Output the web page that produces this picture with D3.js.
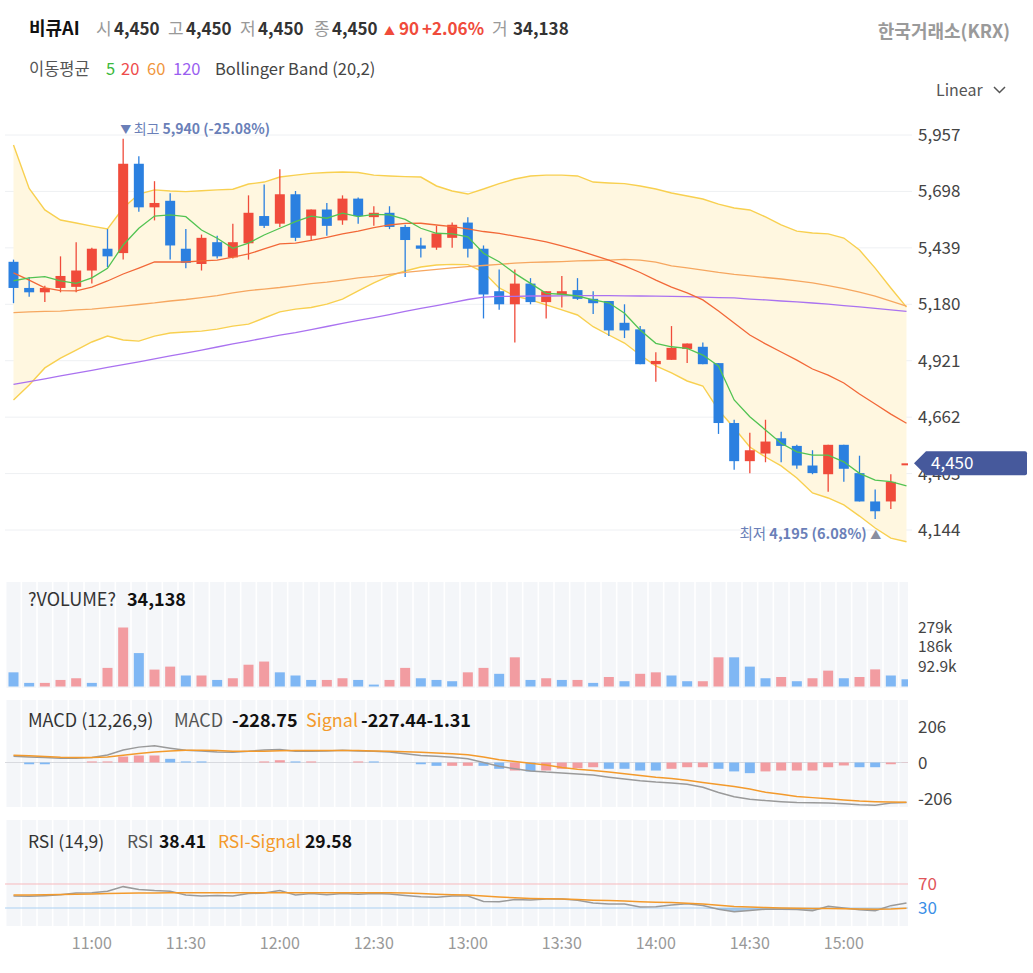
<!DOCTYPE html>
<html>
<head>
<meta charset="utf-8">
<script src="https://cdn.jsdelivr.net/npm/d3@7"></script>
<style>
  body { margin: 0; background: #fff; }
  svg { display: block; font-family: "Noto Sans CJK KR", "Noto Sans", sans-serif; }
</style>
</head>
<body>
<svg id="chart" width="1033" height="973"></svg>
<script>
// 5-minute candles, 10:35 ~ 15:20
const times = ["10:35","10:40","10:45","10:50","10:55","11:00","11:05","11:10","11:15","11:20","11:25","11:30","11:35","11:40","11:45","11:50","11:55","12:00","12:05","12:10","12:15","12:20","12:25","12:30","12:35","12:40","12:45","12:50","12:55","13:00","13:05","13:10","13:15","13:20","13:25","13:30","13:35","13:40","13:45","13:50","13:55","14:00","14:05","14:10","14:15","14:20","14:25","14:30","14:35","14:40","14:45","14:50","14:55","15:00","15:05","15:10","15:15","15:20"];
const xTicks = ["11:00","11:30","12:00","12:30","13:00","13:30","14:00","14:30","15:00"];

const open  = [5375,5255,5235,5255,5260,5335,5435,5415,5825,5625, 5655,5435,5365,5465,5395,5460,5585,5550,5685,5495, 5615,5565,5665,5580,5600,5535,5450,5440,5485,5555, 5435,5240,5180,5275,5190,5225,5245,5205,5195,5095, 5065,4905,4925,4975,4985,4910,4635,4460,4495,4565, 4530,4440,4400,4535,4405,4275,4275,4450];
const high  = [5385,5305,5265,5400,5465,5440,5525,5940,5860,5745, 5690,5525,5500,5495,5550,5680,5730,5800,5700,5615, 5645,5680,5670,5630,5630,5545,5485,5540,5555,5580, 5450,5340,5340,5300,5240,5310,5300,5240,5195,5180, 5080,4960,5080,5000,5005,4910,4650,4590,4650,4595, 4535,4510,4535,4535,4485,4330,4400,4450];
const low   = [5185,5215,5190,5235,5235,5275,5350,5385,5605,5565, 5385,5345,5335,5390,5390,5385,5530,5535,5470,5470, 5495,5545,5550,5540,5525,5305,5395,5430,5440,5395, 5115,5155,5005,5180,5115,5165,5200,5135,5035,5025, 4905,4825,4925,4910,4905,4585,4420,4405,4455,4455, 4425,4400,4320,4365,4275,4195,4240,4450];
const close = [5255,5235,5255,5310,5335,5435,5400,5825,5625,5645, 5450,5370,5485,5400,5465,5600,5540,5685,5485,5615, 5540,5665,5585,5600,5535,5475,5435,5505,5545,5435, 5225,5180,5275,5190,5240,5240,5205,5185,5060,5060, 4905,4920,4980,5000,4905,4635,4460,4510,4550,4530, 4440,4405,4535,4425,4275,4230,4365,4450];

const ma5   = [5288,5301,5307,5287,5276,5301,5345,5452,5529,5585, 5590,5582,5521,5483,5437,5461,5498,5529,5559,5585, 5575,5598,5582,5593,5590,5570,5529,5506,5503,5490, 5414,5375,5322,5276,5230,5226,5218,5200,5187,5139, 5062,5001,4985,4978,4947,4897,4741,4664,4603,4542, 4503,4488,4488,4457,4404,4373,4366,4347];
const ma20  = [5324,5291,5255,5243,5242,5259,5287,5319,5346,5374, 5374,5374,5379,5383,5396,5411,5434,5457,5461,5473, 5487,5503,5516,5532,5544,5551,5552,5544,5536,5526, 5514,5505,5493,5480,5466,5448,5429,5406,5383,5356, 5326,5291,5259,5232,5200,5149,5094,5039,4998,4961, 4924,4883,4855,4819,4768,4722,4676,4634];
const ma60  = [5142,5145,5147,5149,5154,5158,5165,5172,5179,5186, 5195,5202,5211,5220,5232,5243,5250,5257,5266,5275, 5282,5291,5301,5308,5317,5326,5333,5340,5347,5353, 5358,5363,5369,5372,5374,5376,5379,5381,5383,5386, 5383,5374,5356,5347,5337,5326,5317,5310,5303,5296, 5287,5278,5266,5252,5236,5218,5195,5172];
const ma120 = [4812,4825,4838,4851,4864,4877,4890,4903,4916,4929, 4943,4956,4970,4984,4998,5011,5025,5038,5050,5064, 5078,5092,5106,5119,5133,5147,5161,5174,5188,5202, 5213,5216,5216,5218,5218,5219,5220,5220,5220,5219, 5218,5217,5216,5215,5213,5211,5209,5204,5200,5195, 5191,5186,5181,5174,5168,5161,5154,5147];
const bbUpper = [5911,5712,5613,5567,5553,5539,5526,5622,5686,5705, 5700,5697,5701,5705,5708,5732,5741,5764,5773,5781, 5785,5787,5785,5773,5769,5766,5764,5723,5700,5686, 5709,5734,5755,5769,5773,5773,5769,5741,5737,5734, 5723,5709,5691,5677,5663,5640,5622,5613,5581,5544, 5516,5507,5503,5484,5429,5346,5255,5167];
const bbLower = [4741,4810,4888,4933,4970,5007,5034,5016,5011,5034, 5048,5053,5057,5066,5080,5089,5117,5145,5158,5165, 5181,5204,5241,5278,5310,5333,5351,5360,5363,5362, 5328,5255,5218,5200,5177,5154,5131,5077,5039,5002, 4947,4897,4865,4828,4805,4695,4612,4525,4479,4438, 4383,4314,4291,4259,4208,4153,4107,4090];

const volume = [67000,17000,17000,31000,39000,17000,88000,279000,158000,80000, 94000,52000,52000,31000,39000,103000,118000,67000,52000,31000, 31000,39000,31000,9000,31000,88000,39000,31000,25000,67000, 88000,60000,138000,31000,39000,31000,31000,17000,45000,25000, 60000,67000,52000,25000,25000,138000,138000,94000,39000,45000, 25000,39000,75000,39000,45000,81000,52000,34138];
const volumeUp = [0,0,1,1,1,0,1,1,0,1, 1,0,1,0,1,1,1,0,0,0, 1,1,0,0,1,1,0,0,0,1, 1,0,1,0,1,0,1,0,1,0, 1,1,0,0,1,1,0,0,0,1, 0,1,1,0,1,1,0,0];

const macd       = [36,32,28,25,24,28,43,72,88,96, 82,70,66,60,58,64,72,75,64,64, 66,70,66,64,60,50,40,36,30,22, 0,-22,-36,-48,-55,-60,-66,-72,-84,-94, -104,-112,-118,-124,-142,-172,-196,-210,-218,-224, -229,-230,-232,-236,-242,-244,-232,-228.75];
const macdSignal = [42,38,34,30,28,28,32,42,52,60, 66,70,70,68,65,64,65,67,68,68, 68,68,68,66,64,62,58,54,50,44, 32,16,6,-4,-14,-28,-38,-46,-54,-64, -74,-84,-92,-102,-114,-126,-138,-152,-170,-182, -194,-201,-208,-215,-221,-224,-226,-227.44];
const macdHist   = [0,-10,-10,0,0,6,6,34,40,40, 21,6,6,0,0,0,6,13,6,6, 0,0,6,6,0,0,-10,-19,-19,-19, -19,-36,-46,-51,-46,-36,-32,-27,-36,-36, -46,-46,-36,-27,-27,-36,-51,-61,-51,-46, -46,-46,-27,-17,-27,-27,-10,-1.31];
const macdHistUp = [0,0,0,0,0,1,1,1,1,1, 0,0,0,0,0,0,1,1,0,1, 0,0,1,0,0,0,0,0,1,1, 0,0,1,0,1,1,1,1,0,0, 0,0,1,1,1,0,0,0,1,1, 1,1,1,1,0,0,1,1];

const rsi       = [50,49.5,50.5,52,55,55.5,58,65.6,61,59, 58,51.7,50,51,50,54,55,59,51.7,54, 52,54,53,54,53.5,51,48.9,48,50,50, 41,40.5,44,43.5,45,45,43,38.5,36.7,36.7, 31.5,32,35,37,34,28,23.9,26,28,28, 27.5,25.6,33,30,27,25.6,33.9,38.41];
const rsiSignal = [51.5,51.7,52,52.5,53,53.5,54,54.5,55,55.2, 55.4,55.5,55.6,55.6,55.6,55.6,55.6,55.6,55.6,55.6, 55.6,55.6,55.6,55.6,55.5,55,54,53,52.2,51.5, 50,48.5,47,46,45.5,45,44,43,42.3,41.5, 40.5,39.5,39,38,36.5,34.5,32.5,31.5,30.8,30.2, 29.7,29.3,29,28.6,28.3,28,28.5,29.58];

const priceTicks = [5957, 5698, 5439, 5180, 4921, 4662, 4403, 4144];
const volTicks = [279000, 186000, 92900];
const volTickLabels = ["279k", "186k", "92.9k"];
const macdTicks = [206, 0, -206];
const rsiTicks = [70, 30];

const UP = '#f04b3b', DOWN = '#2b80e0';
const UP_LIGHT = '#f29ca1', DOWN_LIGHT = '#7fb7f4';
const ORANGE = '#f39a2c';

const svg = d3.select('#chart');
const left = 5, right = 908, axisX = 918;
const idx = d3.range(times.length);

const x = d3.scaleBand().domain(times).range([5.67, 914.33]);
const cx = i => x(times[i]) + x.bandwidth() / 2;

const py = d3.scaleLinear().domain([4144, 5957]).range([530, 135]);
const vy = d3.scaleLinear().domain([0, 279000]).range([686.5, 627.5]);
const my = d3.scaleLinear().domain([-206, 206]).range([798.5, 726.5]);
const ry = d3.scaleLinear().domain([30, 70]).range([908, 884]);

const defs = svg.append('defs');
defs.append('clipPath').attr('id', 'clipMain')
  .append('rect').attr('x', left).attr('y', 100).attr('width', right - left).attr('height', 470);
defs.append('clipPath').attr('id', 'clipPanes')
  .append('rect').attr('x', left).attr('y', 570).attr('width', right - left).attr('height', 370);

// small helper: a row of text pieces placed at fixed x
function textRow(parts, y, size) {
  svg.append('g').attr('font-size', size)
    .selectAll('text').data(parts).join('text')
    .attr('x', d => d.x).attr('y', y)
    .attr('font-weight', d => d.w || 400)
    .attr('font-size', d => d.s || null)
    .attr('fill', d => d.c)
    .text(d => d.t);
}

// ---------- header ----------
textRow([
  { t: '비큐AI', x: 29, w: 700, c: '#111', s: 18 },
  { t: '시', x: 96, c: '#999' },
  { t: '4,450', x: 114, w: 700, c: '#333' },
  { t: '고', x: 168, c: '#999' },
  { t: '4,450', x: 186, w: 700, c: '#333' },
  { t: '저', x: 240, c: '#999' },
  { t: '4,450', x: 258, w: 700, c: '#333' },
  { t: '종', x: 314, c: '#999' },
  { t: '4,450', x: 332, w: 700, c: '#333' },
  { t: '▲', x: 384, c: UP, s: 11 },
  { t: '90', x: 399, w: 700, c: UP },
  { t: '+2.06%', x: 422, w: 700, c: UP },
  { t: '거', x: 492, c: '#999' },
  { t: '34,138', x: 513, w: 700, c: '#333' }
], 35, 17);

svg.append('text').attr('x', 1010).attr('y', 38).attr('text-anchor', 'end')
  .attr('font-size', 18).attr('font-weight', 700).attr('fill', '#9a9a9a').text('한국거래소(KRX)');

textRow([
  { t: '이동평균', x: 29, c: '#555' },
  { t: '5', x: 106, c: '#3cb93c' },
  { t: '20', x: 121, c: '#ee4b4b' },
  { t: '60', x: 147, c: '#f0963c' },
  { t: '120', x: 173, c: '#9a5ef0' },
  { t: 'Bollinger Band (20,2)', x: 215, c: '#444' }
], 75, 16.5);

svg.append('text').attr('x', 936).attr('y', 96).attr('font-size', 16).attr('fill', '#555').text('Linear');
svg.append('path').attr('d', 'M994,87 L999.5,92.5 L1005,87')
  .attr('fill', 'none').attr('stroke', '#555').attr('stroke-width', 1.5);

// ---------- main pane ----------
svg.append('g').selectAll('line').data(priceTicks).join('line')
  .attr('x1', left).attr('x2', 912)
  .attr('y1', d => py(d)).attr('y2', d => py(d))
  .attr('stroke', '#eef0f3');

const main = svg.append('g').attr('clip-path', 'url(#clipMain)');

main.append('path').datum(idx)
  .attr('d', d3.area().x(cx).y0(i => py(bbLower[i])).y1(i => py(bbUpper[i])))
  .attr('fill', '#fff7e0');

const lineOf = arr => d3.line().x(cx).y(i => py(arr[i]));
[bbUpper, bbLower].forEach(arr => {
  main.append('path').datum(idx)
    .attr('d', lineOf(arr))
    .attr('fill', 'none').attr('stroke', '#f8d050').attr('stroke-width', 1.4);
});

// candles
const candles = main.append('g').selectAll('g').data(idx).join('g');
candles.append('line')
  .attr('x1', cx).attr('x2', cx)
  .attr('y1', i => py(high[i])).attr('y2', i => py(low[i]))
  .attr('stroke', i => close[i] >= open[i] ? UP : DOWN).attr('stroke-width', 1.3);
candles.append('rect')
  .attr('x', i => cx(i) - 5).attr('width', 10)
  .attr('y', i => py(Math.max(open[i], close[i])))
  .attr('height', i => Math.max(2, Math.abs(py(open[i]) - py(close[i]))))
  .attr('fill', i => close[i] >= open[i] ? UP : DOWN);

// moving averages on top of candles
[[ma120, '#aa72f0'], [ma60, '#f6a760'], [ma20, '#f26838'], [ma5, '#52c352']].forEach(([arr, col]) => {
  main.append('path').datum(idx)
    .attr('d', lineOf(arr))
    .attr('fill', 'none').attr('stroke', col).attr('stroke-width', 1.3);
});

// high / low markers
const hiIdx = d3.maxIndex(high), loIdx = d3.minIndex(low);
const hiLbl = svg.append('text').attr('x', cx(hiIdx) - 3).attr('y', py(high[hiIdx]) - 5)
  .attr('font-size', 14).attr('fill', '#6a7fb8');
hiLbl.append('tspan').attr('font-size', 11).text('▼ ');
hiLbl.append('tspan').text('최고 ');
hiLbl.append('tspan').attr('font-weight', 700).text('5,940 (-25.08%)');

const loLbl = svg.append('text').attr('x', cx(loIdx) + 6).attr('y', py(low[loIdx]) + 20)
  .attr('text-anchor', 'end').attr('font-size', 14.5).attr('fill', '#6a7fb8');
loLbl.append('tspan').text('최저 ');
loLbl.append('tspan').attr('font-weight', 700).text('4,195 (6.08%) ');
loLbl.append('tspan').attr('font-size', 11).attr('fill', '#8a8fa0').text('▲');

// price axis labels
svg.append('g').selectAll('text').data(priceTicks).join('text')
  .attr('x', axisX).attr('y', d => py(d) + 6)
  .attr('font-size', 17).attr('fill', '#444')
  .text(d => d3.format(',')(d));

// current price tag
const lastPrice = close[close.length - 1];
const ty = py(lastPrice);
svg.append('path')
  .attr('d', `M914,${ty} L926,${ty - 12} L1025,${ty - 12} Q1027,${ty - 12} 1027,${ty - 10} L1027,${ty + 10} Q1027,${ty + 12} 1025,${ty + 12} L926,${ty + 12} Z`)
  .attr('fill', '#46599c');
svg.append('text').attr('x', 931).attr('y', ty + 6)
  .attr('font-size', 17).attr('fill', '#fff').text(d3.format(',')(lastPrice));

// ---------- lower panes background stripes ----------
const panes = [[582, 688], [700, 807], [820, 926]];
panes.forEach(([y0, y1]) => {
  svg.append('g').attr('clip-path', 'url(#clipPanes)')
    .selectAll('rect').data(idx).join('rect')
    .attr('x', i => x(times[i]) + 0.8).attr('width', x.bandwidth() - 1.6)
    .attr('y', y0).attr('height', y1 - y0)
    .attr('fill', '#f4f6f9');
});

// ---------- volume ----------
const volG = svg.append('g').attr('clip-path', 'url(#clipPanes)');
volG.selectAll('rect').data(idx).join('rect')
  .attr('x', i => cx(i) - 5).attr('width', 10)
  .attr('y', i => vy(volume[i])).attr('height', i => vy(0) - vy(volume[i]))
  .attr('fill', i => volumeUp[i] ? UP_LIGHT : DOWN_LIGHT);

textRow([
  { t: '?VOLUME?', x: 28, c: '#333' },
  { t: d3.format(',')(volume[volume.length - 1]), x: 127, w: 700, c: '#111' }
], 606, 18);

svg.append('g').selectAll('text').data(volTicks).join('text')
  .attr('x', axisX).attr('y', d => vy(d) + 5)
  .attr('font-size', 15.5).attr('fill', '#444')
  .text((d, i) => volTickLabels[i]);

// ---------- MACD ----------
const macdG = svg.append('g').attr('clip-path', 'url(#clipPanes)');
macdG.append('line').attr('x1', left).attr('x2', right)
  .attr('y1', my(0)).attr('y2', my(0)).attr('stroke', '#d8dadf');
macdG.selectAll('rect').data(idx).join('rect')
  .attr('x', i => cx(i) - 5).attr('width', 10)
  .attr('y', i => Math.min(my(0), my(macdHist[i])))
  .attr('height', i => Math.abs(my(0) - my(macdHist[i])))
  .attr('fill', i => macdHistUp[i] ? UP_LIGHT : DOWN_LIGHT);
macdG.append('path').datum(idx)
  .attr('d', d3.line().x(cx).y(i => my(macd[i])))
  .attr('fill', 'none').attr('stroke', '#9a9a9a').attr('stroke-width', 1.5);
macdG.append('path').datum(idx)
  .attr('d', d3.line().x(cx).y(i => my(macdSignal[i])))
  .attr('fill', 'none').attr('stroke', ORANGE).attr('stroke-width', 1.5);

const last = arr => arr[arr.length - 1];
textRow([
  { t: 'MACD (12,26,9)', x: 28, c: '#333' },
  { t: 'MACD', x: 174, c: '#555' },
  { t: last(macd).toFixed(2), x: 232, w: 700, c: '#111' },
  { t: 'Signal', x: 306, c: ORANGE },
  { t: last(macdSignal).toFixed(2) + last(macdHist).toFixed(2), x: 361, w: 700, c: '#111' }
], 727, 18);

svg.append('g').selectAll('text').data(macdTicks).join('text')
  .attr('x', axisX).attr('y', d => my(d) + 6)
  .attr('font-size', 17).attr('fill', '#444')
  .text(d => d);

// ---------- RSI ----------
const rsiG = svg.append('g').attr('clip-path', 'url(#clipPanes)');
rsiG.append('line').attr('x1', left).attr('x2', right)
  .attr('y1', ry(70)).attr('y2', ry(70)).attr('stroke', '#f7b9bd');
rsiG.append('line').attr('x1', left).attr('x2', right)
  .attr('y1', ry(30)).attr('y2', ry(30)).attr('stroke', '#abd0f2');
rsiG.append('path').datum(idx)
  .attr('d', d3.area().x(cx).y0(ry(30)).y1(i => ry(Math.min(rsi[i], 30))))
  .attr('fill', '#8fbde9').attr('opacity', 0.8);
rsiG.append('path').datum(idx)
  .attr('d', d3.line().x(cx).y(i => ry(rsi[i])))
  .attr('fill', 'none').attr('stroke', '#9a9a9a').attr('stroke-width', 1.5);
rsiG.append('path').datum(idx)
  .attr('d', d3.line().x(cx).y(i => ry(rsiSignal[i])))
  .attr('fill', 'none').attr('stroke', ORANGE).attr('stroke-width', 1.5);

textRow([
  { t: 'RSI (14,9)', x: 28, c: '#333' },
  { t: 'RSI', x: 127, c: '#555' },
  { t: last(rsi).toFixed(2), x: 159, w: 700, c: '#111' },
  { t: 'RSI-Signal', x: 218, c: ORANGE },
  { t: last(rsiSignal).toFixed(2), x: 305, w: 700, c: '#111' }
], 848, 17.5);

svg.append('g').selectAll('text').data(rsiTicks).join('text')
  .attr('x', axisX).attr('y', d => ry(d) + 6)
  .attr('font-size', 17).attr('fill', d => d === 70 ? '#e0555a' : '#3b8fe6')
  .text(d => d);

// ---------- time axis ----------
svg.append('g').selectAll('text').data(xTicks).join('text')
  .attr('x', t => x(t) + x.bandwidth() / 2).attr('y', 949)
  .attr('text-anchor', 'middle').attr('font-size', 16).attr('fill', '#999')
  .text(t => t);
</script>
</body>
</html>
